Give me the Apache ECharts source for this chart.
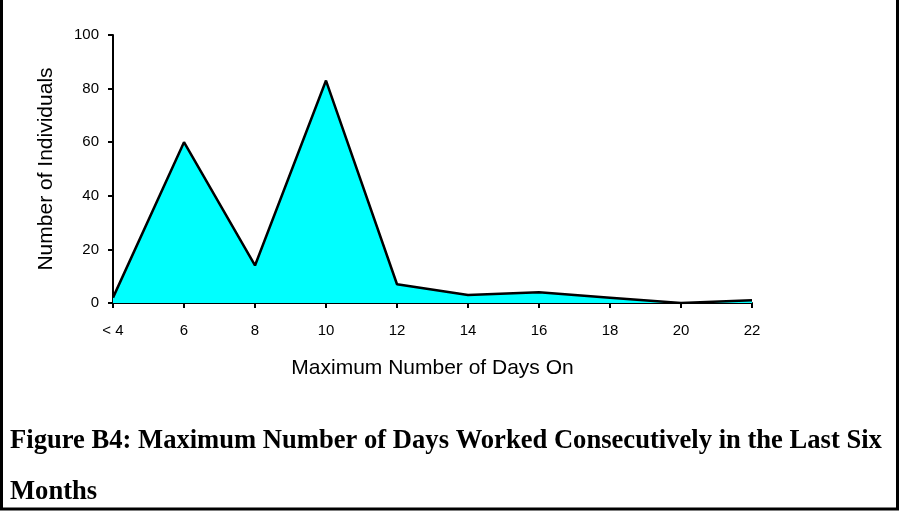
<!DOCTYPE html>
<html><head><meta charset="utf-8">
<script src="https://cdn.jsdelivr.net/npm/echarts@6/dist/echarts.min.js"></script>
<style>html,body{margin:0;padding:0;background:#fff}#c{width:899px;height:526px}</style>
</head><body><div id="c"></div>
<script>
const categories = ['< 4','6','8','10','12','14','16','18','20','22'];
const individuals = [2,60,14,83,7,3,4,2,0,1];
const yTicks = [0,20,40,60,80,100];
const captionLines = ['Figure B4: Maximum Number of Days Worked Consecutively in the Last Six','Months'];

const capStyle = {fontFamily:'Liberation Serif',fontWeight:'bold',fontSize:26.6,lineHeight:30,color:'#000'};
const chart = echarts.init(document.getElementById('c'));
chart.setOption({
  animation:false,
  backgroundColor:'#fff',
  graphic:[{type:'rect',shape:{x:1.5,y:-3,width:896,height:512},style:{fill:'none',stroke:'#000',lineWidth:3}}],
  title:[
    {text:captionLines[0],left:10,top:426,padding:0,textStyle:capStyle},
    {text:captionLines[1],left:10,top:477,padding:0,textStyle:capStyle}
  ],
  grid:{left:113,right:147,top:35,bottom:223,containLabel:false},
  xAxis:{type:'category',data:categories,boundaryGap:false,
    name:'Maximum Number of Days On',nameLocation:'middle',nameGap:55,
    nameTextStyle:{fontFamily:'Liberation Sans',fontSize:21,color:'#000'},
    axisLine:{lineStyle:{color:'#000',width:2}},
    axisTick:{show:true,length:5,lineStyle:{color:'#000',width:2},alignWithLabel:true},
    axisLabel:{fontFamily:'Liberation Sans',fontSize:15,color:'#000',margin:20}},
  yAxis:{type:'value',min:0,max:100,interval:20,
    name:'Number of Individuals',nameLocation:'middle',nameGap:56,
    nameTextStyle:{fontFamily:'Liberation Sans',fontSize:21,color:'#000'},
    axisLine:{show:true,lineStyle:{color:'#000',width:2}},
    axisTick:{show:true,length:5,lineStyle:{color:'#000',width:2}},
    splitLine:{show:false},
    axisLabel:{fontFamily:'Liberation Sans',fontSize:15,color:'#000',margin:14,
      formatter:v=>yTicks.includes(v)?String(v):''}},
  series:[{type:'line',data:individuals,symbol:'none',
    lineStyle:{color:'#000',width:2.5},
    areaStyle:{color:'#00ffff',opacity:1}}]
});
</script></body></html>
